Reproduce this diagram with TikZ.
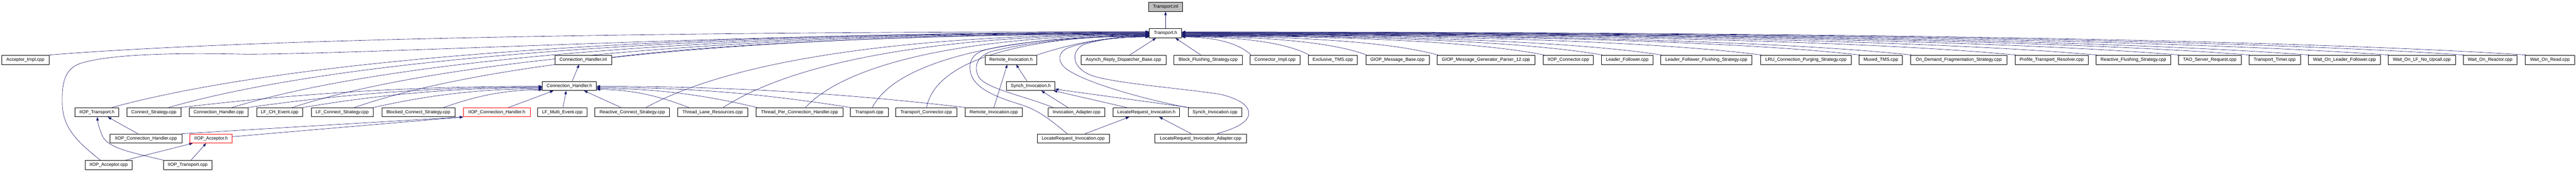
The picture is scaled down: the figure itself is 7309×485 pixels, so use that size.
\documentclass[tikz,border=0pt]{standalone}
\usepackage{fontspec}
\setmainfont{Liberation Sans}
\usetikzlibrary{arrows.meta,calc}
\definecolor{edgeblue}{RGB}{25,25,112}
\pgfdeclarelayer{bg}
\pgfsetlayers{bg,main}
\newcommand\hcurve[4]{\draw[dep] let \p1=#3, \p2=#4 in (\p1) .. controls ({\x1+#1*(\x2-\x1)},{\y1+#2*(\y2-\y1)}) and ({\x2-0.4*(\x2-\x1)},\y2) .. (\p2);}
\begin{document}
\begin{tikzpicture}[x=1pt,y=1pt,
  dep/.style={draw=edgeblue, line width=0.9pt, -{Triangle[length=10pt,width=7pt]}},
  filebox/.style={draw=black, line width=1pt, fill=white, minimum height=26pt, inner sep=0pt, font=\fontsize{13pt}{15pt}\selectfont, text=black}]
\useasboundingbox (0,0) rectangle (7309,-485);
% row 0,1
\node[filebox, fill=gray!50, minimum width=96pt] (tinl) at (3307,-19.5) {Transport.inl};
\node[filebox, minimum width=92pt] (th) at (3307,-94.5) {Transport.h};
% row 2
\node[filebox, minimum width=134pt] (aimpl) at (72,-169.5) {Acceptor\_Impl.cpp};
\node[filebox, minimum width=160pt] (chinl) at (1655,-169.5) {Connection\_Handler.inl};
\node[filebox, minimum width=147pt] (rih) at (2868.5,-169.5) {Remote\_Invocation.h};
\node[filebox, minimum width=241pt] (ardb) at (3187.5,-169.5) {Asynch\_Reply\_Dispatcher\_Base.cpp};
\node[filebox, minimum width=194pt] (bfs) at (3428,-169.5) {Block\_Flushing\_Strategy.cpp};
\node[filebox, minimum width=141pt] (cimpl) at (3617.5,-169.5) {Connector\_Impl.cpp};
\node[filebox, minimum width=139pt] (etms) at (3781.5,-169.5) {Exclusive\_TMS.cpp};
\node[filebox, minimum width=180pt] (gmb) at (3965,-169.5) {GIOP\_Message\_Base.cpp};
\node[filebox, minimum width=278pt] (gmg) at (4216,-169.5) {GIOP\_Message\_Generator\_Parser\_12.cpp};
\node[filebox, minimum width=142pt] (icon) at (4450,-169.5) {IIOP\_Connector.cpp};
\node[filebox, minimum width=146pt] (lf) at (4617,-169.5) {Leader\_Follower.cpp};
\node[filebox, minimum width=259pt] (lffs) at (4841.5,-169.5) {Leader\_Follower\_Flushing\_Strategy.cpp};
\node[filebox, minimum width=258pt] (lru) at (5124,-169.5) {LRU\_Connection\_Purging\_Strategy.cpp};
\node[filebox, minimum width=123pt] (mtms) at (5336.5,-169.5) {Muxed\_TMS.cpp};
\node[filebox, minimum width=273pt] (odfs) at (5557.5,-169.5) {On\_Demand\_Fragmentation\_Strategy.cpp};
\node[filebox, minimum width=208pt] (ptr) at (5821,-169.5) {Profile\_Transport\_Resolver.cpp};
\node[filebox, minimum width=212pt] (rfs) at (6053,-169.5) {Reactive\_Flushing\_Strategy.cpp};
\node[filebox, minimum width=178pt] (tsr) at (6270,-169.5) {TAO\_Server\_Request.cpp};
\node[filebox, minimum width=146pt] (ttim) at (6454,-169.5) {Transport\_Timer.cpp};
\node[filebox, minimum width=204pt] (wolf) at (6652,-169.5) {Wait\_On\_Leader\_Follower.cpp};
\node[filebox, minimum width=191pt] (wonu) at (6871.5,-169.5) {Wait\_On\_LF\_No\_Upcall.cpp};
\node[filebox, minimum width=152pt] (wor) at (7065,-169.5) {Wait\_On\_Reactor.cpp};
\node[filebox, minimum width=140pt] (wordn) at (7235,-169.5) {Wait\_On\_Read.cpp};
% row 3
\node[filebox, minimum width=153pt] (chh) at (1615.5,-244) {Connection\_Handler.h};
\node[filebox, minimum width=137pt] (sih) at (2924.5,-244) {Synch\_Invocation.h};
% row 4
\node[filebox, minimum width=124pt] (itrh) at (275,-318.5) {IIOP\_Transport.h};
\node[filebox, minimum width=153pt] (cs) at (436.5,-318.5) {Connect\_Strategy.cpp};
\node[filebox, minimum width=167pt] (chcpp) at (620.5,-318.5) {Connection\_Handler.cpp};
\node[filebox, minimum width=131pt] (lfch) at (793.5,-318.5) {LF\_CH\_Event.cpp};
\node[filebox, minimum width=176pt] (lfcs) at (971,-318.5) {LF\_Connect\_Strategy.cpp};
\node[filebox, minimum width=208pt] (bcs) at (1187,-318.5) {Blocked\_Connect\_Strategy.cpp};
\node[filebox, draw=red, minimum width=189pt] (ichh) at (1409.5,-318.5) {IIOP\_Connection\_Handler.h};
\node[filebox, minimum width=141pt] (lfme) at (1595.5,-318.5) {LF\_Multi\_Event.cpp};
\node[filebox, minimum width=212pt] (rcs) at (1794,-318.5) {Reactive\_Connect\_Strategy.cpp};
\node[filebox, minimum width=198pt] (tlr) at (2022,-318.5) {Thread\_Lane\_Resources.cpp};
\node[filebox, minimum width=247pt] (tpch) at (2268.5,-318.5) {Thread\_Per\_Connection\_Handler.cpp};
\node[filebox, minimum width=107pt] (tcpp) at (2466.5,-318.5) {Transport.cpp};
\node[filebox, minimum width=174pt] (tcon) at (2628,-318.5) {Transport\_Connector.cpp};
\node[filebox, minimum width=161pt] (ricpp) at (2819.5,-318.5) {Remote\_Invocation.cpp};
\node[filebox, minimum width=161pt] (iacpp) at (3054.5,-318.5) {Invocation\_Adapter.cpp};
\node[filebox, minimum width=189pt] (lrih) at (3252.5,-318.5) {LocateRequest\_Invocation.h};
\node[filebox, minimum width=153pt] (sicpp) at (3447.5,-318.5) {Synch\_Invocation.cpp};
% row 5
\node[filebox, minimum width=204pt] (ichcpp) at (414,-393) {IIOP\_Connection\_Handler.cpp};
\node[filebox, draw=red, minimum width=120pt] (iah) at (599,-393) {IIOP\_Acceptor.h};
\node[filebox, minimum width=204pt] (lricpp) at (3045,-393) {LocateRequest\_Invocation.cpp};
\node[filebox, minimum width=259pt] (lriacpp) at (3406.5,-393) {LocateRequest\_Invocation\_Adapter.cpp};
% row 6
\node[filebox, minimum width=133pt] (iacc) at (308.5,-468) {IIOP\_Acceptor.cpp};
\node[filebox, minimum width=137pt] (itrcpp) at (532.5,-468) {IIOP\_Transport.cpp};

\begin{pgfonlayer}{bg}
\fill[white] (0,0) rectangle (7309,-485);
\draw[dep] (th.north) -- (tinl.south);
% right group into Transport.h
\draw[dep] ([xshift=18pt]ardb.north) -- ([xshift=-27pt]th.south);
\draw[dep] ([xshift=-21pt]bfs.north) -- ([xshift=28pt]th.south);
\hcurve{0.2}{0.75}{([xshift=3pt]cimpl.north west)}{([yshift=-10.5pt]th.east)}
\hcurve{0.2}{0.75}{([xshift=3pt]etms.north west)}{([yshift=-9.65pt]th.east)}
\hcurve{0.2}{0.75}{([xshift=3pt]gmb.north west)}{([yshift=-8.8pt]th.east)}
\hcurve{0.2}{0.75}{([xshift=3pt]gmg.north west)}{([yshift=-7.95pt]th.east)}
\hcurve{0.2}{0.75}{([xshift=3pt]icon.north west)}{([yshift=-7.1pt]th.east)}
\hcurve{0.2}{0.75}{([xshift=3pt]lf.north west)}{([yshift=-6.25pt]th.east)}
\hcurve{0.2}{0.75}{([xshift=3pt]lffs.north west)}{([yshift=-5.4pt]th.east)}
\hcurve{0.2}{0.75}{([xshift=3pt]lru.north west)}{([yshift=-4.55pt]th.east)}
\hcurve{0.2}{0.75}{([xshift=3pt]mtms.north west)}{([yshift=-3.7pt]th.east)}
\hcurve{0.2}{0.75}{([xshift=3pt]odfs.north west)}{([yshift=-2.85pt]th.east)}
\hcurve{0.2}{0.75}{([xshift=3pt]ptr.north west)}{([yshift=-2pt]th.east)}
\hcurve{0.2}{0.75}{([xshift=3pt]rfs.north west)}{([yshift=-1.15pt]th.east)}
\hcurve{0.2}{0.75}{([xshift=3pt]tsr.north west)}{([yshift=-0.3pt]th.east)}
\hcurve{0.2}{0.75}{([xshift=3pt]ttim.north west)}{([yshift=0.55pt]th.east)}
\hcurve{0.2}{0.75}{([xshift=3pt]wolf.north west)}{([yshift=1.4pt]th.east)}
\hcurve{0.2}{0.75}{([xshift=3pt]wonu.north west)}{([yshift=2.25pt]th.east)}
\hcurve{0.2}{0.75}{([xshift=3pt]wor.north west)}{([yshift=3.1pt]th.east)}
\hcurve{0.2}{0.75}{([xshift=3pt]wordn.north west)}{([yshift=3.95pt]th.east)}
% left group into Transport.h
\hcurve{0.2}{0.75}{(aimpl.north east)}{([yshift=4.5pt]th.west)}
\draw[dep] ([xshift=-24pt]iacc.north) .. controls (230,-410) and (180,-370) .. (177,-300) .. controls (175,-240) and (180,-195) .. (231,-179) .. controls (300,-158) and (450,-148) .. (700,-154) .. controls (1100,-152) and (2200,-91) .. ([yshift=3.5pt]th.west);
\hcurve{0.2}{0.75}{([xshift=-20pt]itrh.north east)}{([yshift=2.5pt]th.west)}
\hcurve{0.2}{0.75}{([xshift=-35pt]cs.north east)}{([yshift=1.5pt]th.west)}
\hcurve{0.2}{0.75}{([xshift=-46pt]chcpp.north east)}{([yshift=0.5pt]th.west)}
\hcurve{0.2}{0.75}{([xshift=-30pt]lfch.north east)}{([yshift=-0.5pt]th.west)}
\hcurve{0.2}{0.75}{([xshift=35pt]lfcs.north)}{([yshift=-1.5pt]th.west)}
\hcurve{0.2}{0.6}{([yshift=6.5pt]chinl.east)}{([yshift=-2pt]th.west)}
\hcurve{0.2}{0.75}{([xshift=39pt]rcs.north)}{([yshift=-2.5pt]th.west)}
\hcurve{0.2}{0.75}{([xshift=30pt]tlr.north)}{([yshift=-3.5pt]th.west)}
\hcurve{0.15}{0.75}{([xshift=16.5pt]tpch.north)}{([yshift=-4.5pt]th.west)}
\hcurve{0.1}{0.75}{([xshift=8.5pt]tcpp.north)}{([yshift=-5.5pt]th.west)}
\hcurve{0.05}{0.8}{([xshift=1pt]tcon.north)}{([yshift=-6.5pt]th.west)}
\hcurve{0.3}{0.6}{(rih.north east)}{([yshift=-9.5pt]th.west)}
\draw[dep] ([xshift=-66.5pt]iacpp.north) .. controls (2900,-270) and (2790,-250) .. (2775,-215) .. controls (2762,-185) and (2775,-160) .. (2810,-147) .. controls (2950,-110) and (3150,-102) .. ([yshift=-7.5pt]th.west);
\draw[dep] ([xshift=-17pt]lricpp.north) .. controls (2980,-340) and (2950,-315) .. (2900,-298) .. controls (2800,-268) and (2752,-240) .. (2752,-190) .. controls (2752,-160) and (2775,-145) .. (2810,-138) .. controls (2950,-108) and (3150,-103) .. ([yshift=-8.5pt]th.west);
\draw[dep] ([xshift=-80pt]sicpp.north) .. controls (3250,-282) and (3090,-238) .. (3032,-200) .. controls (3000,-180) and (2998,-150) .. (3030,-136) .. controls (3100,-110) and (3200,-105) .. ([yshift=-10.5pt]th.west);
\draw[dep] ([xshift=47pt]lriacpp.north) .. controls (3500,-366) and (3545,-348) .. (3543,-320) .. controls (3541,-295) and (3510,-280) .. (3465,-268) .. controls (3350,-250) and (3150,-236) .. (3092,-212) .. controls (3040,-190) and (3038,-145) .. (3075,-126) .. controls (3150,-105) and (3220,-100) .. ([yshift=-5.5pt]th.west);
% into Connection_Handler.h
\hcurve{0.3}{0.6}{(cs.north east)}{([yshift=-1pt]chh.west)}
\hcurve{0.3}{0.6}{(chcpp.north east)}{([yshift=-3pt]chh.west)}
\hcurve{0.3}{0.6}{(lfch.north east)}{([yshift=-5pt]chh.west)}
\hcurve{0.3}{0.6}{(lfcs.north east)}{([yshift=-8pt]chh.west)}
\hcurve{0.3}{0.6}{([xshift=72pt]bcs.north)}{([yshift=-11pt]chh.west)}
\hcurve{0.3}{0.6}{([xshift=-68pt]tlr.north)}{([yshift=-10pt]chh.east)}
\hcurve{0.3}{0.6}{([xshift=3pt]tpch.north west)}{([yshift=-7pt]chh.east)}
\hcurve{0.3}{0.6}{(tcpp.north west)}{([yshift=-4pt]chh.east)}
\hcurve{0.3}{0.6}{(ricpp.north west)}{([yshift=-1pt]chh.east)}
\draw[dep] ([xshift=33.5pt]ichh.north) -- ([xshift=-45pt]chh.south);
\draw[dep] ([xshift=2pt]lfme.north) -- ([xshift=-9pt]chh.south);
\draw[dep] ([xshift=-32pt]rcs.north) -- ([xshift=41.5pt]chh.south);
\draw[dep] ([xshift=8pt]chh.north) -- ([xshift=-12pt]chinl.south);
% invocation cluster
\draw[dep] ([xshift=0.5pt]ricpp.north) -- ([xshift=-10.5pt]rih.south);
\draw[dep] ([xshift=-10.5pt]sih.north) -- ([xshift=14.5pt]rih.south);
\draw[dep] ([xshift=-24.5pt]iacpp.north) -- ([xshift=30pt]sih.south);
\draw[dep] ([xshift=-55.5pt]lrih.north) -- ([xshift=-4pt]sih.south east);
\draw[dep] ([xshift=3pt]sicpp.north west) -- ([yshift=-9pt]sih.east);
\draw[dep] ([xshift=34pt]lricpp.north) -- ([xshift=-48.5pt]lrih.south);
\draw[dep] ([xshift=-26.5pt]lriacpp.north) -- ([xshift=36.5pt]lrih.south);
% IIOP cluster
\draw[dep] ([xshift=-23pt]ichcpp.north) -- ([xshift=31pt]itrh.south);
\draw[dep] (ichcpp.north east) -- (ichh.south west);
\draw[dep] ([yshift=5pt]iah.east) -- (ichh.south west);
\draw[dep] ([xshift=48.5pt]iacc.north) -- ([xshift=-52pt]iah.south);
\draw[dep] ([xshift=9.5pt]itrcpp.north) -- ([xshift=-14pt]iah.south);
\draw[dep] (itrcpp.north west) .. controls (360,-430) and (300,-418) .. (288,-380) .. controls (280,-360) and (277,-345) .. ([xshift=1pt]itrh.south);
\end{pgfonlayer}
\end{tikzpicture}
\end{document}
